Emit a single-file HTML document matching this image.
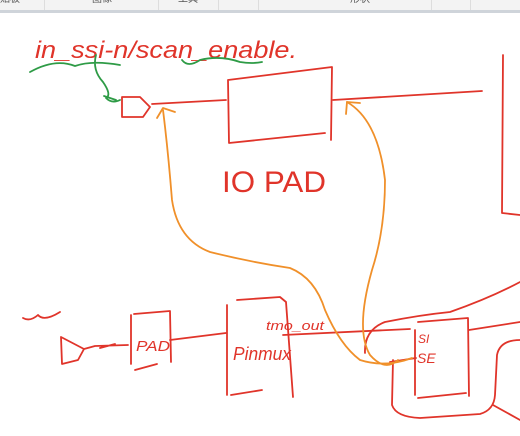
<!DOCTYPE html>
<html><head><meta charset="utf-8"><style>
body{margin:0;width:520px;height:436px;overflow:hidden;background:#fff;font-family:"Liberation Sans","Noto Sans CJK SC",sans-serif}
.bar{position:absolute;left:0;top:0;width:520px;height:10px;background:#f3f3f3;border-bottom:3px solid #cfd4da;font-size:10px;color:#555;line-height:4px;overflow:hidden}
.bar span{position:absolute;top:-2px}
.bar i{position:absolute;top:0;width:1px;height:10px;background:#ddd}
</style></head><body>
<div class="bar"><span style="left:0">贴板</span><span style="left:92px">图像</span><span style="left:178px">工具</span><span style="left:350px">形状</span>
<i style="left:44px"></i><i style="left:158px"></i><i style="left:218px"></i><i style="left:258px"></i><i style="left:431px"></i><i style="left:470px"></i></div>
<svg width="520" height="436" style="position:absolute;left:0;top:0" fill="none" stroke-linecap="round" stroke-linejoin="round">
<g stroke="#e0342a" stroke-width="1.8">
<path d="M122 97 L140 97 L150 107 L143 117 L122 117 Z M122 100 L122 117"/>
<path d="M152 104 L226 100"/>
<path d="M228 80 L332 67 L331 140 M228 80 L229 143 L325 133"/>
<path d="M333 100 L482 91"/>
<path d="M503 55 L502 213 L520 215"/>
<path d="M23 318 Q30 322 38 315 Q44 322 60 312"/>
<path d="M61 337 L62 364 L78 360 L84 349 Z M84 349 L95 346 L128 345 M100 348 L115 344"/>
<path d="M131 315 L131 364 M134 314 L170 311 L171 362 M135 370 L157 364"/>
<path d="M170 340 L226 333"/>
<path d="M227 305 L227 395 M237 300 L280 297 L286 302 L293 397 M231 395 L262 390"/>
<path d="M283 335 L410 329"/>
<path d="M415 330 L415 395 M418 322 L468 318 L469 396 M418 398 L466 393"/>
<path d="M469 330 L520 322"/>
<path d="M365 353 Q364 330 385 322 Q420 315 450 312 Q490 298 520 282"/>
<path d="M390 362 L416 358 M393 360 L392 405 Q396 417 420 418 L480 414 Q494 410 495 395 L497 355 Q500 340 520 340 M493 405 L520 420"/>
</g>
<g fill="#e0342a" font-family="Liberation Sans,sans-serif" font-style="italic">
<text x="35" y="58" font-size="24" textLength="262" lengthAdjust="spacingAndGlyphs">in_ssi-n/scan_enable.</text>
<text x="222" y="192" font-size="30" font-style="normal" textLength="104" lengthAdjust="spacingAndGlyphs">IO PAD</text>
<text x="136" y="351" font-size="15" textLength="34" lengthAdjust="spacingAndGlyphs">PAD</text>
<text x="233" y="360" font-size="18" textLength="58" lengthAdjust="spacingAndGlyphs">Pinmux</text>
<text x="266" y="330" font-size="13" textLength="58" lengthAdjust="spacingAndGlyphs">tmo_out</text>
<text x="418" y="343" font-size="12">SI</text>
<text x="417" y="363" font-size="14">SE</text>
</g>
<g stroke="#2e9b46" stroke-width="1.8">
<path d="M30 72 Q55 58 75 66 Q92 60 120 65 M96 55 Q92 70 103 82 Q112 95 106 98 Q112 104 120 100 M104 96 L116 100"/>
<path d="M182 60 Q188 68 200 60 Q220 55 240 62 Q252 64 262 62"/>
</g>
<g stroke="#f0902a" stroke-width="1.8">
<path d="M163 110 Q168 150 172 200 Q178 240 210 252 Q250 262 290 268 Q315 278 325 310 Q340 345 360 360 Q385 368 412 358"/>
<path d="M157 118 L163 108 L175 112"/>
<path d="M347 102 Q378 120 385 180 Q385 230 372 270 Q355 330 370 355 Q385 372 398 360"/>
<path d="M346 114 L347 102 L360 103"/>
</g>
</svg>
</body></html>
